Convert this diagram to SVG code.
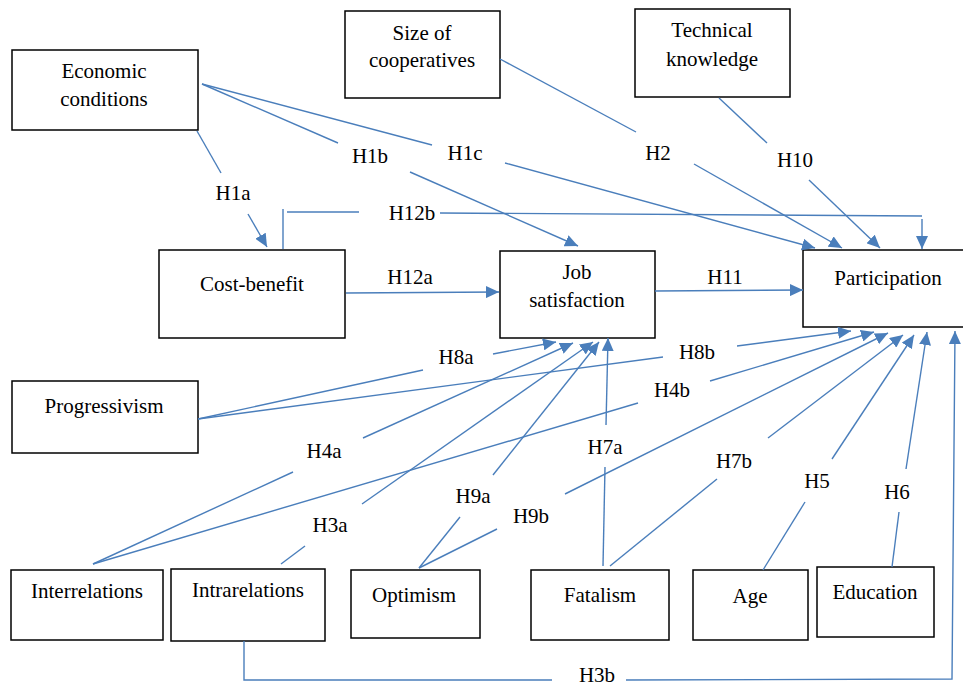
<svg xmlns="http://www.w3.org/2000/svg" width="963" height="687" viewBox="0 0 963 687">
<defs>
<marker id="arr" markerUnits="userSpaceOnUse" markerWidth="14" markerHeight="12" refX="13" refY="6" orient="auto">
<path d="M0,0 L13,6 L0,12 Z" fill="#4a7ebb"/>
</marker>
<style>
.box{fill:#fff;stroke:#000;stroke-width:1.5}
.t{font-family:'Liberation Serif','Times New Roman',serif;font-size:21px;fill:#000;text-anchor:middle}
.c line,.c polyline{stroke:#4a7ebb;stroke-width:1.4;fill:none}
.a{marker-end:url(#arr)}
</style>
</defs>
<rect width="963" height="687" fill="#fff"/>

<g id="economic"><rect class="box" x="12" y="50" width="186" height="80"/><text class="t" x="104" y="78">Economic</text><text class="t" x="104" y="106">conditions</text></g>
<g id="size"><rect class="box" x="345" y="11" width="155" height="87"/><text class="t" x="422" y="40">Size of</text><text class="t" x="422" y="67">cooperatives</text></g>
<g id="technical"><rect class="box" x="635" y="9" width="155" height="88"/><text class="t" x="712" y="37">Technical</text><text class="t" x="712" y="66">knowledge</text></g>
<g id="costbenefit"><rect class="box" x="159" y="250" width="186" height="88"/><text class="t" x="252" y="291">Cost-benefit</text></g>
<g id="jobsat"><rect class="box" x="500" y="251" width="155" height="87"/><text class="t" x="577" y="279">Job</text><text class="t" x="577" y="307">satisfaction</text></g>
<g id="participation"><rect class="box" x="803" y="250" width="165" height="77"/><text class="t" x="888" y="285">Participation</text></g>
<g id="progressivism"><rect class="box" x="12" y="381" width="186" height="72"/><text class="t" x="104" y="413">Progressivism</text></g>
<g id="interrelations"><rect class="box" x="11" y="570" width="152" height="70"/><text class="t" x="87" y="598">Interrelations</text></g>
<g id="intrarelations"><rect class="box" x="171" y="569" width="154" height="72"/><text class="t" x="248" y="597">Intrarelations</text></g>
<g id="optimism"><rect class="box" x="351" y="570" width="129" height="68"/><text class="t" x="414" y="602">Optimism</text></g>
<g id="fatalism"><rect class="box" x="531" y="570" width="138" height="70"/><text class="t" x="600" y="602">Fatalism</text></g>
<g id="age"><rect class="box" x="693" y="570" width="115" height="70"/><text class="t" x="750" y="603">Age</text></g>
<g id="education"><rect class="box" x="817" y="567" width="117" height="70"/><text class="t" x="875" y="599">Education</text></g>

<g id="connectors" class="c">
<line x1="197" y1="131" x2="221" y2="173"/><line class="a" x1="248" y1="214" x2="267" y2="247"/>
<line x1="202" y1="84" x2="338" y2="143"/><line class="a" x1="410" y1="172" x2="578" y2="246"/>
<line x1="202" y1="84" x2="432" y2="145"/><line class="a" x1="505" y1="163" x2="815" y2="248"/>
<line x1="500" y1="59" x2="636" y2="132"/><line class="a" x1="694" y1="164" x2="842" y2="248"/>
<line x1="719" y1="98" x2="767" y2="143"/><line class="a" x1="809" y1="180" x2="880" y2="248"/>
<polyline points="283,249 283,209"/><line x1="287" y1="212" x2="359" y2="212"/><line x1="440" y1="213" x2="922" y2="216"/><line class="a" x1="922" y1="219" x2="922" y2="249"/>
<line class="a" x1="346" y1="293" x2="499" y2="292"/>
<line class="a" x1="655" y1="291" x2="803" y2="290"/>
<line x1="198" y1="419" x2="423" y2="370"/><line class="a" x1="493" y1="354" x2="556" y2="342"/>
<line x1="198" y1="419" x2="663" y2="357"/><line class="a" x1="737" y1="346" x2="851" y2="331"/>
<line x1="93" y1="564" x2="293" y2="472"/><line class="a" x1="363" y1="438" x2="573" y2="343"/>
<line x1="93" y1="564" x2="638" y2="403"/><line class="a" x1="710" y1="381" x2="874" y2="332"/>
<line x1="281" y1="564" x2="305" y2="546"/><line class="a" x1="362" y1="504" x2="593" y2="342"/>
<line x1="419" y1="568" x2="460" y2="517"/><line class="a" x1="493" y1="475" x2="599" y2="342"/>
<line x1="419" y1="568" x2="497" y2="529"/><line class="a" x1="565" y1="494" x2="888" y2="333"/>
<line x1="603" y1="566" x2="605" y2="467"/><line class="a" x1="606" y1="425" x2="608" y2="338"/>
<line x1="610" y1="566" x2="717" y2="479"/><line class="a" x1="768" y1="438" x2="903" y2="335"/>
<line x1="763" y1="570" x2="805" y2="502"/><line class="a" x1="832" y1="459" x2="914" y2="335"/>
<line x1="892" y1="567" x2="899" y2="512"/><line class="a" x1="906" y1="469" x2="927" y2="332"/>
<polyline points="244,641 244,680 552,680"/><polyline class="a" points="626,680 952,679 955,331"/>
</g>

<g id="labels">
<text class="t" x="233" y="200">H1a</text>
<text class="t" x="370" y="163">H1b</text>
<text class="t" x="465" y="160">H1c</text>
<text class="t" x="658" y="160">H2</text>
<text class="t" x="795" y="167">H10</text>
<text class="t" x="412" y="220">H12b</text>
<text class="t" x="410" y="284">H12a</text>
<text class="t" x="725" y="284">H11</text>
<text class="t" x="456" y="364">H8a</text>
<text class="t" x="697" y="359">H8b</text>
<text class="t" x="672" y="397">H4b</text>
<text class="t" x="324" y="458">H4a</text>
<text class="t" x="605" y="454">H7a</text>
<text class="t" x="734" y="468">H7b</text>
<text class="t" x="817" y="488">H5</text>
<text class="t" x="897" y="499">H6</text>
<text class="t" x="473" y="503">H9a</text>
<text class="t" x="531" y="523">H9b</text>
<text class="t" x="330" y="532">H3a</text>
<text class="t" x="597" y="682">H3b</text>
</g>
</svg>
